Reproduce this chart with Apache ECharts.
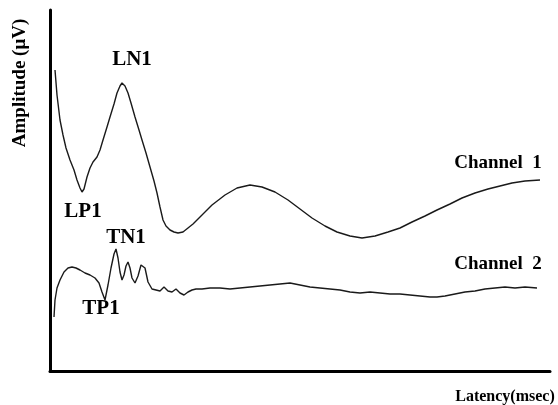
<!DOCTYPE html>
<html>
<head>
<meta charset="utf-8">
<script src="https://cdn.jsdelivr.net/npm/echarts@6/dist/echarts.min.js"></script>
<style>html,body{margin:0;padding:0;background:#fff}#c{width:558px;height:405px}</style>
</head>
<body>
<div id="c"></div>
<script>
// Channel 1 (latency, amplitude)
const ch1Latency = [5,7,10,13,16,20,24,27,30,32,34,37,40,43,47,50,53,57,60,64,67,70,72,75,78,81,85,89,92,96,100,104,107,110,113,116,120,124,128,133,138,143,150,162,175,187,200,212,225,238,250,262,275,287,300,312,325,338,350,362,375,387,400,412,425,438,450,462,475,490];
const ch1Amp = [301,276,251,236,223,211,201,191,183,179,182,194,203,209,214,221,231,244,254,267,278,285,288,285,278,268,254,241,231,218,204,190,178,164,151,145,141,139,138,139,143,147,154,166,176,183,186,184,179,171,162,153,145,139,135,133,135,139,143,149,155,161,167,173,178,182,185,188,190,191];
// Channel 2
const ch2Latency = [4,5,7,10,14,18,22,26,30,35,40,45,49,52,55,58,61,64,66,68,70,72,74,76,78,80,82,85,88,91,93,95,98,102,106,110,114,118,122,126,130,134,138,142,146,152,160,170,180,190,200,210,220,230,240,250,260,270,280,290,300,310,320,330,340,350,360,370,380,387,395,405,415,425,435,445,455,465,475,487];
const ch2Amp = [54,71,83,91,99,103,104,103,101,98,96,93,88,79,71,86,103,117,122,113,99,91,96,105,109,103,93,88,95,106,108,103,89,82,81,80,84,80,79,82,78,76,79,81,82,82,83,83,82,83,84,85,86,87,88,86,84,83,82,81,79,78,79,78,77,77,76,75,74,74,75,77,79,80,82,83,84,83,84,83];
// Peak labels
const peakNames = ['LN1','LP1','TN1','TP1'];
const peakCoords = [[82,311],[33,159],[76,133],[51,62]];
const channelNames = ['Channel  1','Channel  2'];
const channelCoords = [[448,208],[448,107]];

const FONT = '"Liberation Serif", "Times New Roman", serif';
const zip = (a,b) => a.map((v,i)=>[v,b[i]]);
const mk = (names, coords, size) => names.map((n,i)=>({
  coord: coords[i], value: n,
  label: {show:true, position:'inside', formatter:n, color:'#000', fontFamily:FONT, fontWeight:'bold', fontSize:size}
}));

const chart = echarts.init(document.getElementById('c'), null, {renderer:'canvas'});
chart.setOption({
  animation:false,
  backgroundColor:'#fff',
  grid:{left:50,right:8,top:10,bottom:34},
  xAxis:{type:'value',min:0,max:500,axisLine:{show:true,onZero:false,lineStyle:{color:'#000',width:3}},axisTick:{show:false},axisLabel:{show:false},splitLine:{show:false}},
  yAxis:{type:'value',min:0,max:361,axisLine:{show:true,onZero:false,lineStyle:{color:'#000',width:3}},axisTick:{show:false},axisLabel:{show:false},splitLine:{show:false}},
  graphic:[
    {type:'text',x:20,y:83,rotation:Math.PI/2,style:{text:'Amplitude (μV)',fill:'#000',font:'bold 19px '+FONT,textAlign:'center',textVerticalAlign:'middle'}},
    {type:'text',x:505,y:397,style:{text:'Latency(msec)',fill:'#000',font:'bold 16px '+FONT,textAlign:'center',textVerticalAlign:'middle'}}
  ],
  series:[
    {type:'line',data:zip(ch1Latency,ch1Amp),showSymbol:false,lineStyle:{color:'#1a1a1a',width:1.4},
     markPoint:{symbol:'circle',symbolSize:1,itemStyle:{color:'rgba(0,0,0,0)'},data:mk(peakNames.slice(0,2),peakCoords.slice(0,2),21).concat(mk([channelNames[0]],[channelCoords[0]],19))}},
    {type:'line',data:zip(ch2Latency,ch2Amp),showSymbol:false,lineStyle:{color:'#1a1a1a',width:1.4},
     markPoint:{symbol:'circle',symbolSize:1,itemStyle:{color:'rgba(0,0,0,0)'},data:mk(peakNames.slice(2),peakCoords.slice(2),21).concat(mk([channelNames[1]],[channelCoords[1]],19))}}
  ]
});
</script>
</body>
</html>
